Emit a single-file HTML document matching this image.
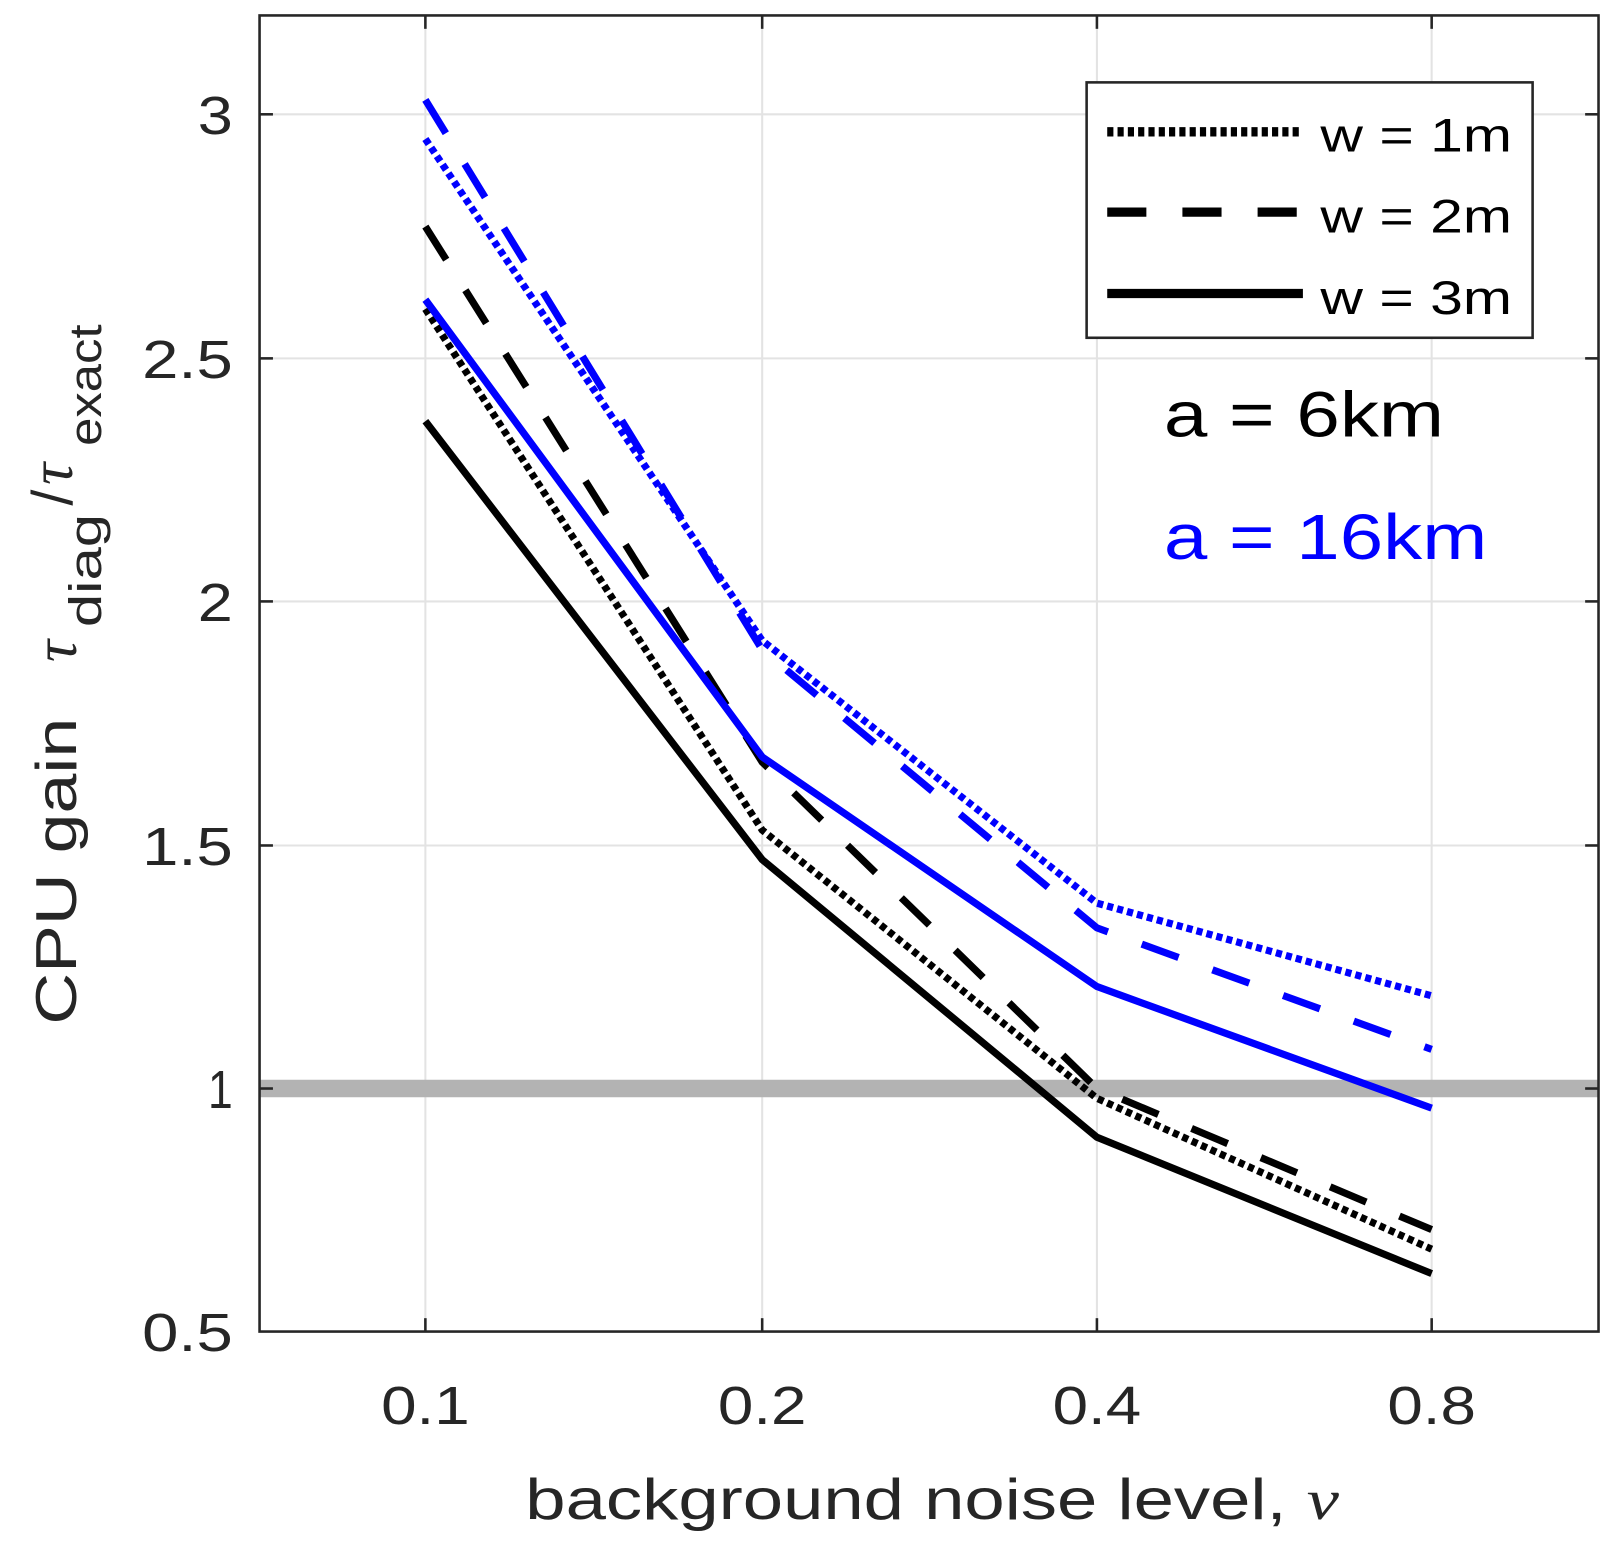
<!DOCTYPE html>
<html><head><meta charset="utf-8"><style>html,body{margin:0;padding:0;background:#fff}svg{display:block}</style></head>
<body>
<svg width="1615" height="1554" viewBox="0 0 1568 1509" preserveAspectRatio="none" xmlns="http://www.w3.org/2000/svg" font-family="Liberation Sans, sans-serif">
<rect x="0" y="0" width="1568" height="1509" fill="#fff"/>
<g stroke="#e3e3e3" stroke-width="2">
<line x1="413" y1="15" x2="413" y2="1293"/><line x1="740" y1="15" x2="740" y2="1293"/>
<line x1="1065" y1="15" x2="1065" y2="1293"/><line x1="1390" y1="15" x2="1390" y2="1293"/>
<line x1="252" y1="111" x2="1552" y2="111"/><line x1="252" y1="348" x2="1552" y2="348"/>
<line x1="252" y1="584" x2="1552" y2="584"/><line x1="252" y1="821" x2="1552" y2="821"/>
</g>
<line x1="252" y1="1057" x2="1552" y2="1057" stroke="#b3b3b3" stroke-width="17"/>
<g fill="none" stroke-width="7" stroke-linejoin="miter">
<polyline stroke="#000" points="413,409 740,834.7 1065,1104.3 1390,1236.7"/>
<polyline stroke="#000" stroke-dasharray="6 4" points="413,300 740,806 1065,1066.5 1390,1213"/>
<polyline stroke="#000" stroke-dasharray="38 35" points="413,220 740,740 1065,1057 1390,1194"/>
<polyline stroke="#0000ff" points="413,291 740,735 1065,958 1390,1076"/>
<polyline stroke="#0000ff" stroke-dasharray="6 4" points="413,135 740,622 1065,877 1390,967"/>
<polyline stroke="#0000ff" stroke-dasharray="38 35" points="413,97 740,631 1065,901 1390,1019"/>
</g>
<rect x="252" y="15" width="1300" height="1278" fill="none" stroke="#262626" stroke-width="2.5"/>
<g stroke="#262626" stroke-width="2.5">
<line x1="413" y1="1293" x2="413" y2="1280"/><line x1="740" y1="1293" x2="740" y2="1280"/><line x1="1065" y1="1293" x2="1065" y2="1280"/><line x1="1390" y1="1293" x2="1390" y2="1280"/>
<line x1="413" y1="15" x2="413" y2="28"/><line x1="740" y1="15" x2="740" y2="28"/><line x1="1065" y1="15" x2="1065" y2="28"/><line x1="1390" y1="15" x2="1390" y2="28"/>
<line x1="252" y1="111" x2="265" y2="111"/><line x1="252" y1="348" x2="265" y2="348"/><line x1="252" y1="584" x2="265" y2="584"/><line x1="252" y1="821" x2="265" y2="821"/><line x1="252" y1="1057" x2="265" y2="1057"/>
<line x1="1552" y1="111" x2="1539" y2="111"/><line x1="1552" y1="348" x2="1539" y2="348"/><line x1="1552" y1="584" x2="1539" y2="584"/><line x1="1552" y1="821" x2="1539" y2="821"/><line x1="1552" y1="1057" x2="1539" y2="1057"/>
</g>
<g fill="#262626" font-size="52" text-anchor="end">
<text x="226" y="130" textLength="34" lengthAdjust="spacingAndGlyphs">3</text>
<text x="226" y="367" textLength="88" lengthAdjust="spacingAndGlyphs">2.5</text>
<text x="226" y="603" textLength="34" lengthAdjust="spacingAndGlyphs">2</text>
<text x="226" y="840" textLength="88" lengthAdjust="spacingAndGlyphs">1.5</text>
<text x="226" y="1076" textLength="24" lengthAdjust="spacingAndGlyphs">1</text>
<text x="226" y="1312" textLength="88" lengthAdjust="spacingAndGlyphs">0.5</text>
</g>
<g fill="#262626" font-size="52" text-anchor="middle">
<text x="413" y="1383" textLength="86" lengthAdjust="spacingAndGlyphs">0.1</text>
<text x="740" y="1383" textLength="86" lengthAdjust="spacingAndGlyphs">0.2</text>
<text x="1065" y="1383" textLength="86" lengthAdjust="spacingAndGlyphs">0.4</text>
<text x="1390" y="1383" textLength="86" lengthAdjust="spacingAndGlyphs">0.8</text>
</g>
<text x="510" y="1475" font-size="56" fill="#262626" textLength="790" lengthAdjust="spacingAndGlyphs">background noise level, <tspan font-family="Liberation Serif, serif" font-style="italic">ν</tspan></text>
<g transform="translate(74,995) rotate(-90)" fill="#262626">
<text x="0" y="0" font-size="56" textLength="298" lengthAdjust="spacingAndGlyphs">CPU gain</text>
<text x="352" y="0" font-size="60" font-family="Liberation Serif, serif" font-style="italic">τ</text>
<text x="386" y="24" font-size="44" textLength="110" lengthAdjust="spacingAndGlyphs">diag</text>
<text x="504" y="-4" font-size="56">/</text>
<text x="524" y="-4" font-size="60" font-family="Liberation Serif, serif" font-style="italic">τ</text>
<text x="562" y="24" font-size="44" textLength="118" lengthAdjust="spacingAndGlyphs">exact</text>
</g>
<rect x="1055" y="80" width="433" height="248" fill="#fff" stroke="#262626" stroke-width="2.5"/>
<g stroke="#000" stroke-width="9">
<line x1="1075" y1="128" x2="1265" y2="128" stroke-dasharray="6 4"/>
<line x1="1075" y1="206" x2="1265" y2="206" stroke-dasharray="38 35"/>
<line x1="1075" y1="285" x2="1265" y2="285"/>
</g>
<g fill="#000" font-size="46">
<text x="1282" y="147" textLength="186" lengthAdjust="spacingAndGlyphs">w = 1m</text>
<text x="1282" y="226" textLength="186" lengthAdjust="spacingAndGlyphs">w = 2m</text>
<text x="1282" y="305" textLength="186" lengthAdjust="spacingAndGlyphs">w = 3m</text>
</g>
<text x="1130" y="424" font-size="62" fill="#000" textLength="272" lengthAdjust="spacingAndGlyphs">a = 6km</text>
<text x="1130" y="543" font-size="62" fill="#0000ff" textLength="314" lengthAdjust="spacingAndGlyphs">a = 16km</text>
</svg>
</body></html>
